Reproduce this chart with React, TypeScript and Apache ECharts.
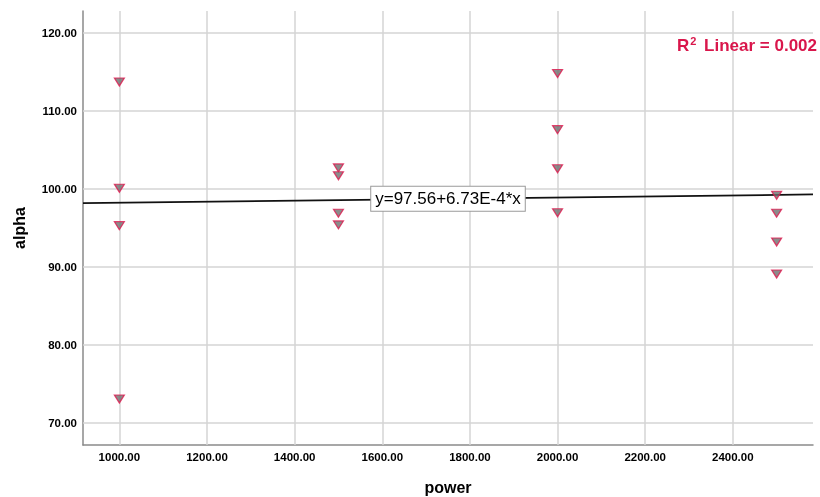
import React, { useEffect, useRef } from "react";
import * as echarts from "echarts";

const power1000 = [113.7, 100.1, 95.3, 73.1];
const power1500 = [102.7, 101.7, 96.9, 95.4];
const power2000 = [114.8, 107.6, 102.6, 96.95];
const power2500 = [99.2, 96.9, 93.2, 89.1];
const powerLevels = [1000, 1500, 2000, 2500];
const alphaGroups = [power1000, power1500, power2000, power2500];

const intercept = 97.56;
const slope = 6.73e-4;
const xMin = 917;
const xMax = 2583;
const yMin = 67.2;
const yMax = 122.8;
const xTicks = [1000, 1200, 1400, 1600, 1800, 2000, 2200, 2400];
const yTicks = [70, 80, 90, 100, 110, 120];
const equationText = "y=97.56+6.73E-4*x";
const rSquared = "0.002";
const equationAt = 1750;

const FONT = "'Liberation Sans', Arial, sans-serif";
const GRID_COLOR = "#d4d4d4";

export default function App() {
  const ref = useRef<HTMLDivElement>(null);
  useEffect(() => {
    if (!ref.current) return;
    const chart = echarts.init(ref.current, null, { renderer: "svg" });
    const points: number[][] = [];
    powerLevels.forEach((p, i) => alphaGroups[i].forEach((a) => points.push([p, a])));
    const linePts = [xMin, xMax].map((x) => [x, intercept + slope * x]);
    const gridLines = [
      ...xTicks.map((v) => ({ xAxis: v })),
      ...yTicks.map((v) => ({ yAxis: v })),
    ];
    chart.setOption({
      animation: false,
      textStyle: { fontFamily: FONT },
      grid: { left: 83, right: 7, top: 11, bottom: 52, containLabel: false, outerBoundsMode: "none" },
      xAxis: {
        type: "value",
        min: xMin,
        max: xMax,
        name: "power",
        nameLocation: "middle",
        nameGap: 34,
        nameTextStyle: { fontFamily: FONT, fontWeight: "bold", fontSize: 16, color: "#000" },
        axisLine: { show: true, onZero: false, lineStyle: { color: "#8a8a8a", width: 1.5 } },
        axisTick: { show: false },
        axisLabel: {
          margin: 6,
          fontFamily: FONT,
          fontWeight: "bold",
          fontSize: 11.5,
          color: "#000",
          customValues: xTicks,
          formatter: (v: number) => v.toFixed(2),
        },
        splitLine: { show: false },
      },
      yAxis: {
        type: "value",
        min: yMin,
        max: yMax,
        name: "alpha",
        nameLocation: "middle",
        nameRotate: 90,
        nameGap: 56,
        nameTextStyle: { fontFamily: FONT, fontWeight: "bold", fontSize: 16, color: "#000" },
        axisLine: { show: true, onZero: false, lineStyle: { color: "#8a8a8a", width: 1.5 } },
        axisTick: { show: false },
        axisLabel: {
          margin: 6,
          fontFamily: FONT,
          fontWeight: "bold",
          fontSize: 11.5,
          color: "#000",
          customValues: yTicks,
          formatter: (v: number) => v.toFixed(2),
        },
        splitLine: { show: false },
      },
      series: [
        {
          type: "line",
          data: [],
          z: 1,
          silent: true,
          markLine: {
            silent: true,
            z: 1,
            symbol: "none",
            label: { show: false },
            lineStyle: { color: GRID_COLOR, width: 1.5, type: "solid" },
            data: gridLines,
          },
        },
        {
          type: "line",
          data: linePts,
          showSymbol: false,
          symbol: "none",
          lineStyle: { color: "#111", width: 1.8 },
          z: 5,
          markPoint: {
            symbol: "rect",
            symbolSize: 0,
            z: 6,
            data: [
              {
                coord: [equationAt, intercept + slope * equationAt],
                label: {
                  show: true,
                  position: "inside",
                  formatter: equationText,
                  fontFamily: FONT,
                  fontSize: 17,
                  color: "#000",
                  backgroundColor: "#fff",
                  borderColor: "#9a9a9a",
                  borderWidth: 1,
                  padding: [4, 4, 3, 4],
                },
              },
            ],
          },
        },
        {
          type: "scatter",
          data: points,
          symbol: "triangle",
          symbolRotate: 180,
          symbolSize: [10, 8],
          itemStyle: { color: "#6e6e6e", borderColor: "#e0184d", borderWidth: 1.2 },
          z: 10,
        },
      ],
      graphic: [
        {
          type: "text",
          right: 3,
          top: 35,
          z: 20,
          style: {
            text: "{a|R}{s|2}{a| Linear = " + rSquared + "}",
            rich: {
              a: { fontFamily: FONT, fontWeight: "bold", fontSize: 17, fill: "#d9164b", color: "#d9164b" },
              s: { fontFamily: FONT, fontWeight: "bold", fontSize: 11, fill: "#d9164b", color: "#d9164b", verticalAlign: "top", padding: [0, 3, 9, 1] },
            },
          },
        },
      ],
    });
    return () => chart.dispose();
  }, []);
  return (
    <div
      ref={ref}
      style={{ position: "fixed", left: 0, top: 0, width: 820, height: 497 }}
    />
  );
}
